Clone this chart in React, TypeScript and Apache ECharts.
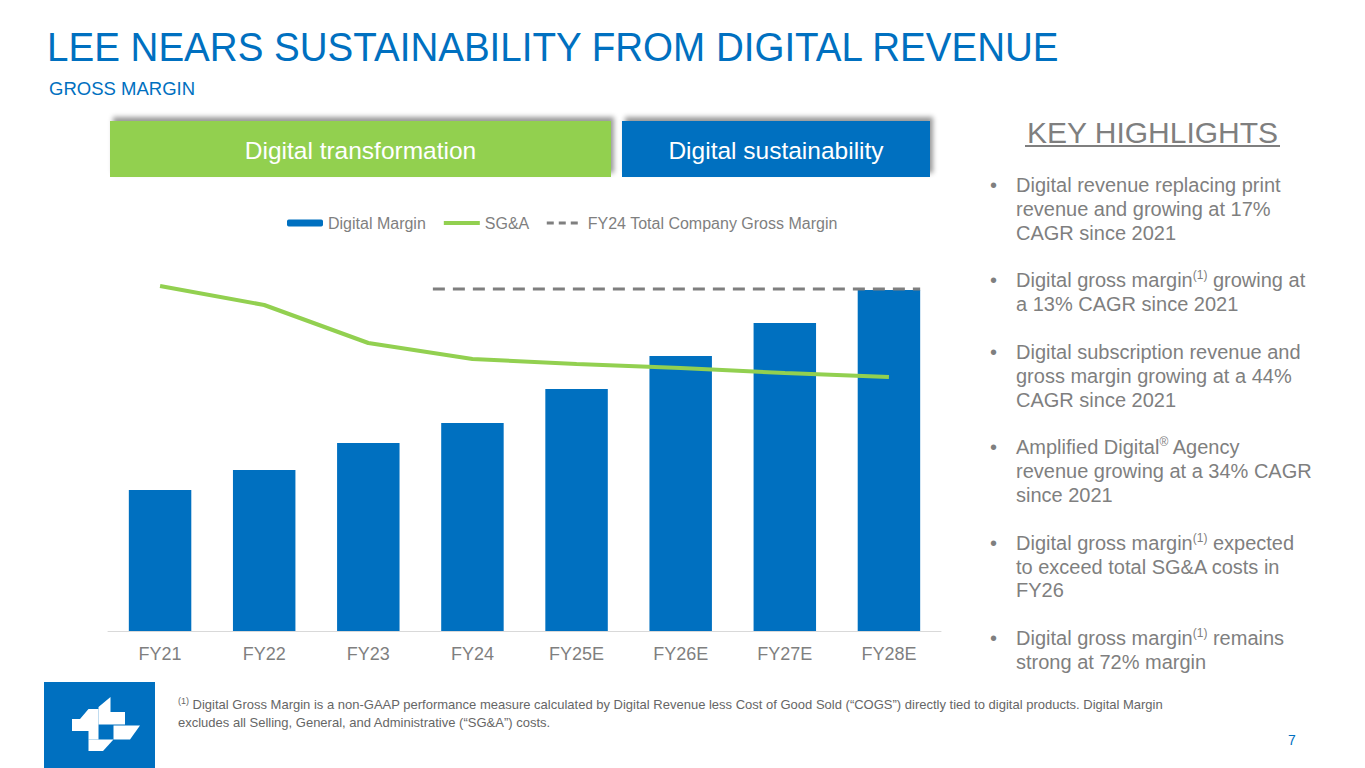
import React, { useEffect, useRef } from "react";
import * as echarts from "echarts";

const categories = ["FY21", "FY22", "FY23", "FY24", "FY25E", "FY26E", "FY27E", "FY28E"];
const digitalMargin = [141, 161, 188, 208, 242, 275, 308, 341];
const sgaCosts = [345, 326, 288, 272, 267, 263, 258, 254];
const fy24GrossMargin = 342;
// span of the reference line, in category-index units (FY21 = 0)
const gmSpan = [2.62, 7.3];

const legendNames = ["Digital Margin", "SG&A", "FY24 Total Company Gross Margin"];

const titleText = "LEE NEARS SUSTAINABILITY FROM DIGITAL REVENUE";
const subtitleText = "GROSS MARGIN";
const phaseLabels = ["Digital transformation", "Digital sustainability"];
const highlightsTitle = "KEY HIGHLIGHTS";
const highlights = [
  ["Digital revenue replacing print", "revenue and growing at 17%", "CAGR since 2021"],
  ["Digital gross margin{s|(1)} growing at", "a 13% CAGR since 2021"],
  ["Digital subscription revenue and", "gross margin growing at a 44%", "CAGR since 2021"],
  ["Amplified Digital{s|®} Agency", "revenue growing at a 34% CAGR", "since 2021"],
  ["Digital gross margin{s|(1)} expected", "to exceed total SG&A costs in", "FY26"],
  ["Digital gross margin{s|(1)} remains", "strong at 72% margin"],
];
const footnoteLines = [
  "{s|(1)} Digital Gross Margin is a non-GAAP performance measure calculated by Digital Revenue less Cost of Good Sold (“COGS”) directly tied to digital products. Digital Margin",
  "excludes all Selling, General, and Administrative (“SG&A”) costs.",
];
const pageNumber = "7";

const FONT = "'Liberation Sans', Arial, Helvetica, sans-serif";
const BLUE = "#0070C0";
const GREEN = "#92D050";
const GRAY = "#7F7F7F";

export default function App() {
  const ref = useRef<HTMLDivElement>(null);

  useEffect(() => {
    if (!ref.current) return;
    const chart = echarts.init(ref.current, undefined, { renderer: "svg" });

    const graphics: any[] = [];
    // Title
    graphics.push({
      type: "text", x: 47, y: 47, scaleX: 0.964,
      style: { text: titleText, fill: BLUE, font: `40px ${FONT}`, verticalAlign: "middle", align: "left" },
    });
    graphics.push({
      type: "text", x: 49, y: 88, scaleX: 0.975,
      style: { text: subtitleText, fill: BLUE, font: `19px ${FONT}`, verticalAlign: "middle", align: "left" },
    });
    // Phase banners
    const banners = [
      { x: 110, w: 501, color: GREEN },
      { x: 622, w: 308, color: BLUE },
    ];
    banners.forEach((b, i) => {
      graphics.push({
        type: "rect",
        shape: { x: b.x, y: 121, width: b.w, height: 56 },
        style: { fill: b.color, shadowBlur: 5, shadowOffsetX: 3, shadowOffsetY: -4, shadowColor: "rgba(0,0,0,0.4)" },
      });
      graphics.push({
        type: "text", x: b.x + b.w / 2, y: 150,
        style: { text: phaseLabels[i], fill: "#ffffff", font: `24.5px ${FONT}`, align: "center", verticalAlign: "middle" },
      });
    });
    // Key highlights
    graphics.push({
      type: "text", x: 1152.5, y: 132,
      style: { text: highlightsTitle, fill: GRAY, font: `30px ${FONT}`, align: "center", verticalAlign: "middle" },
    });
    graphics.push({
      type: "rect", shape: { x: 1025, y: 145, width: 255, height: 2 }, style: { fill: GRAY },
    });
    let k = 0;
    highlights.forEach((lines) => {
      lines.forEach((line, j) => {
        const y = 185 + 23.85 * k;
        if (j === 0) {
          graphics.push({
            type: "text", x: 990, y,
            style: { text: "•", fill: GRAY, font: `20px ${FONT}`, align: "left", verticalAlign: "middle" },
          });
        }
        graphics.push({
          type: "text", x: 1016, y,
          style: {
            text: line, fill: GRAY, font: `20px ${FONT}`, align: "left", verticalAlign: "middle",
            rich: { s: { fontSize: 12, fontFamily: FONT, fill: GRAY, padding: [0, 0, 10, 0] } },
          },
        });
        k++;
      });
      k++;
    });
    // Footnote
    footnoteLines.forEach((line, i) => {
      graphics.push({
        type: "text", x: 178, y: 704 + 18 * i,
        style: {
          text: line, fill: "#666666", font: `13px ${FONT}`, align: "left", verticalAlign: "middle",
          rich: { s: { fontSize: 9, fontFamily: FONT, fill: "#666666", padding: [0, 0, 7, 0] } },
        },
      });
    });
    // Page number
    graphics.push({
      type: "text", x: 1292, y: 740,
      style: { text: pageNumber, fill: BLUE, font: `14px ${FONT}`, align: "center", verticalAlign: "middle" },
    });
    // Logo
    graphics.push({ type: "rect", shape: { x: 44, y: 682, width: 111, height: 86 }, style: { fill: BLUE } });
    const logoPolys = [
      [[98.5, 707], [110.5, 697], [110.5, 712], [125, 712], [125, 724.5], [98.5, 724.5]],
      [[113.5, 725.5], [140, 725.5], [130, 739.5], [113.5, 739.5]],
      [[88.5, 739.5], [113.5, 739.5], [103, 751], [88.5, 751]],
      [[72, 719], [80, 719], [88.5, 709], [98.5, 709], [98.5, 739.5], [88.5, 739.5], [88.5, 731], [72, 731]],
    ];
    logoPolys.forEach((pts) => {
      graphics.push({ type: "polygon", shape: { points: pts }, style: { fill: "#ffffff" } });
    });

    const option: any = {
      animation: false,
      backgroundColor: "#ffffff",
      textStyle: { fontFamily: FONT },
      grid: { left: 108, right: 424, top: 231, bottom: 137 },
      legend: {
        data: [
          { name: legendNames[0] },
          { name: legendNames[1], itemStyle: { opacity: 0 }, lineStyle: { width: 4 } },
          { name: legendNames[2], itemStyle: { opacity: 0 }, lineStyle: { width: 3, type: [7, 5] } },
        ],
        left: 282,
        top: 210,
        itemWidth: 36,
        itemHeight: 7,
        itemGap: 16,
        textStyle: { color: GRAY, fontSize: 16, fontFamily: FONT },
      },
      xAxis: [
        {
          type: "category",
          data: categories,
          axisLine: { lineStyle: { color: "#D9D9D9", width: 1 } },
          axisTick: { show: false },
          axisLabel: { color: GRAY, fontSize: 18, margin: 14, fontFamily: FONT },
        },
        { type: "value", min: -0.5, max: 7.5, show: false },
      ],
      yAxis: { type: "value", min: 0, max: 400, show: false },
      series: [
        {
          name: legendNames[0],
          type: "bar",
          data: digitalMargin,
          barWidth: "60%",
          itemStyle: { color: BLUE },
        },
        {
          name: legendNames[1],
          type: "line",
          data: sgaCosts,
          symbol: "none",
          lineStyle: { color: GREEN, width: 4 },
          itemStyle: { color: GREEN },
        },
        {
          name: legendNames[2],
          type: "line",
          xAxisIndex: 1,
          data: gmSpan.map((x) => [x, fy24GrossMargin]),
          symbol: "none",
          lineStyle: { color: GRAY, width: 3, type: [12, 8] },
          itemStyle: { color: GRAY },
          z: 5,
        },
      ],
      graphic: graphics,
    };
    chart.setOption(option);
    return () => chart.dispose();
  }, []);

  return (
    <div
      ref={ref}
      style={{ position: "fixed", left: 0, top: 0, width: 1365, height: 768, background: "#fff" }}
    />
  );
}
